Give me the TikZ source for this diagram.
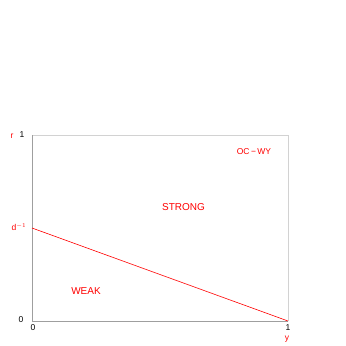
\documentclass[tikz,border=0pt]{standalone}
\usepackage{fontspec}
\setmainfont{Liberation Sans}
\begin{document}
\begin{tikzpicture}[x=1pt,y=-1pt,
  lbl/.style={text=red,font=\fontsize{10}{10}\selectfont,inner sep=0pt},
  tick/.style={text=black,font=\fontsize{8.5}{8.5}\selectfont,inner sep=0pt},
  axlbl/.style={text=red,font=\fontsize{8.5}{8.5}\selectfont,inner sep=0pt}]
\useasboundingbox (0,0) rectangle (346,346);
% frame
\coordinate (BL) at (32,321);
\coordinate (TL) at (32,135);
\coordinate (TR) at (288,135);
\coordinate (BR) at (288,321);
\draw[gray!35,line width=0.8pt] (TL) -- (TR) -- (BR);
\draw[gray!75,line width=0.8pt] (TL) -- (BL) -- (BR);
% boundary line
\coordinate (D) at (32,228);
\draw[red,line width=0.6pt] (D) -- (BR);
% labels
\node[tick] (r1) at (22,135) {1};
\node[axlbl] (r) at (12,136) {r};
\node[axlbl] (dinv) at (19,227) {d$^{-1}$};
\node[tick] (r0) at (21,320) {0};
\node[tick] (y0) at (33,327.5) {0};
\node[tick] (y1) at (288,327.5) {1};
\node[axlbl] (y) at (287,339) {y};
\node[lbl,font=\fontsize{8.5}{8.5}\selectfont] (oc) at (254,152) {OC{\,}−{\,}WY};
\node[lbl] (strong) at (183.5,207) {STRONG};
\node[lbl] (weak) at (86,291) {WEAK};
\end{tikzpicture}
\end{document}
